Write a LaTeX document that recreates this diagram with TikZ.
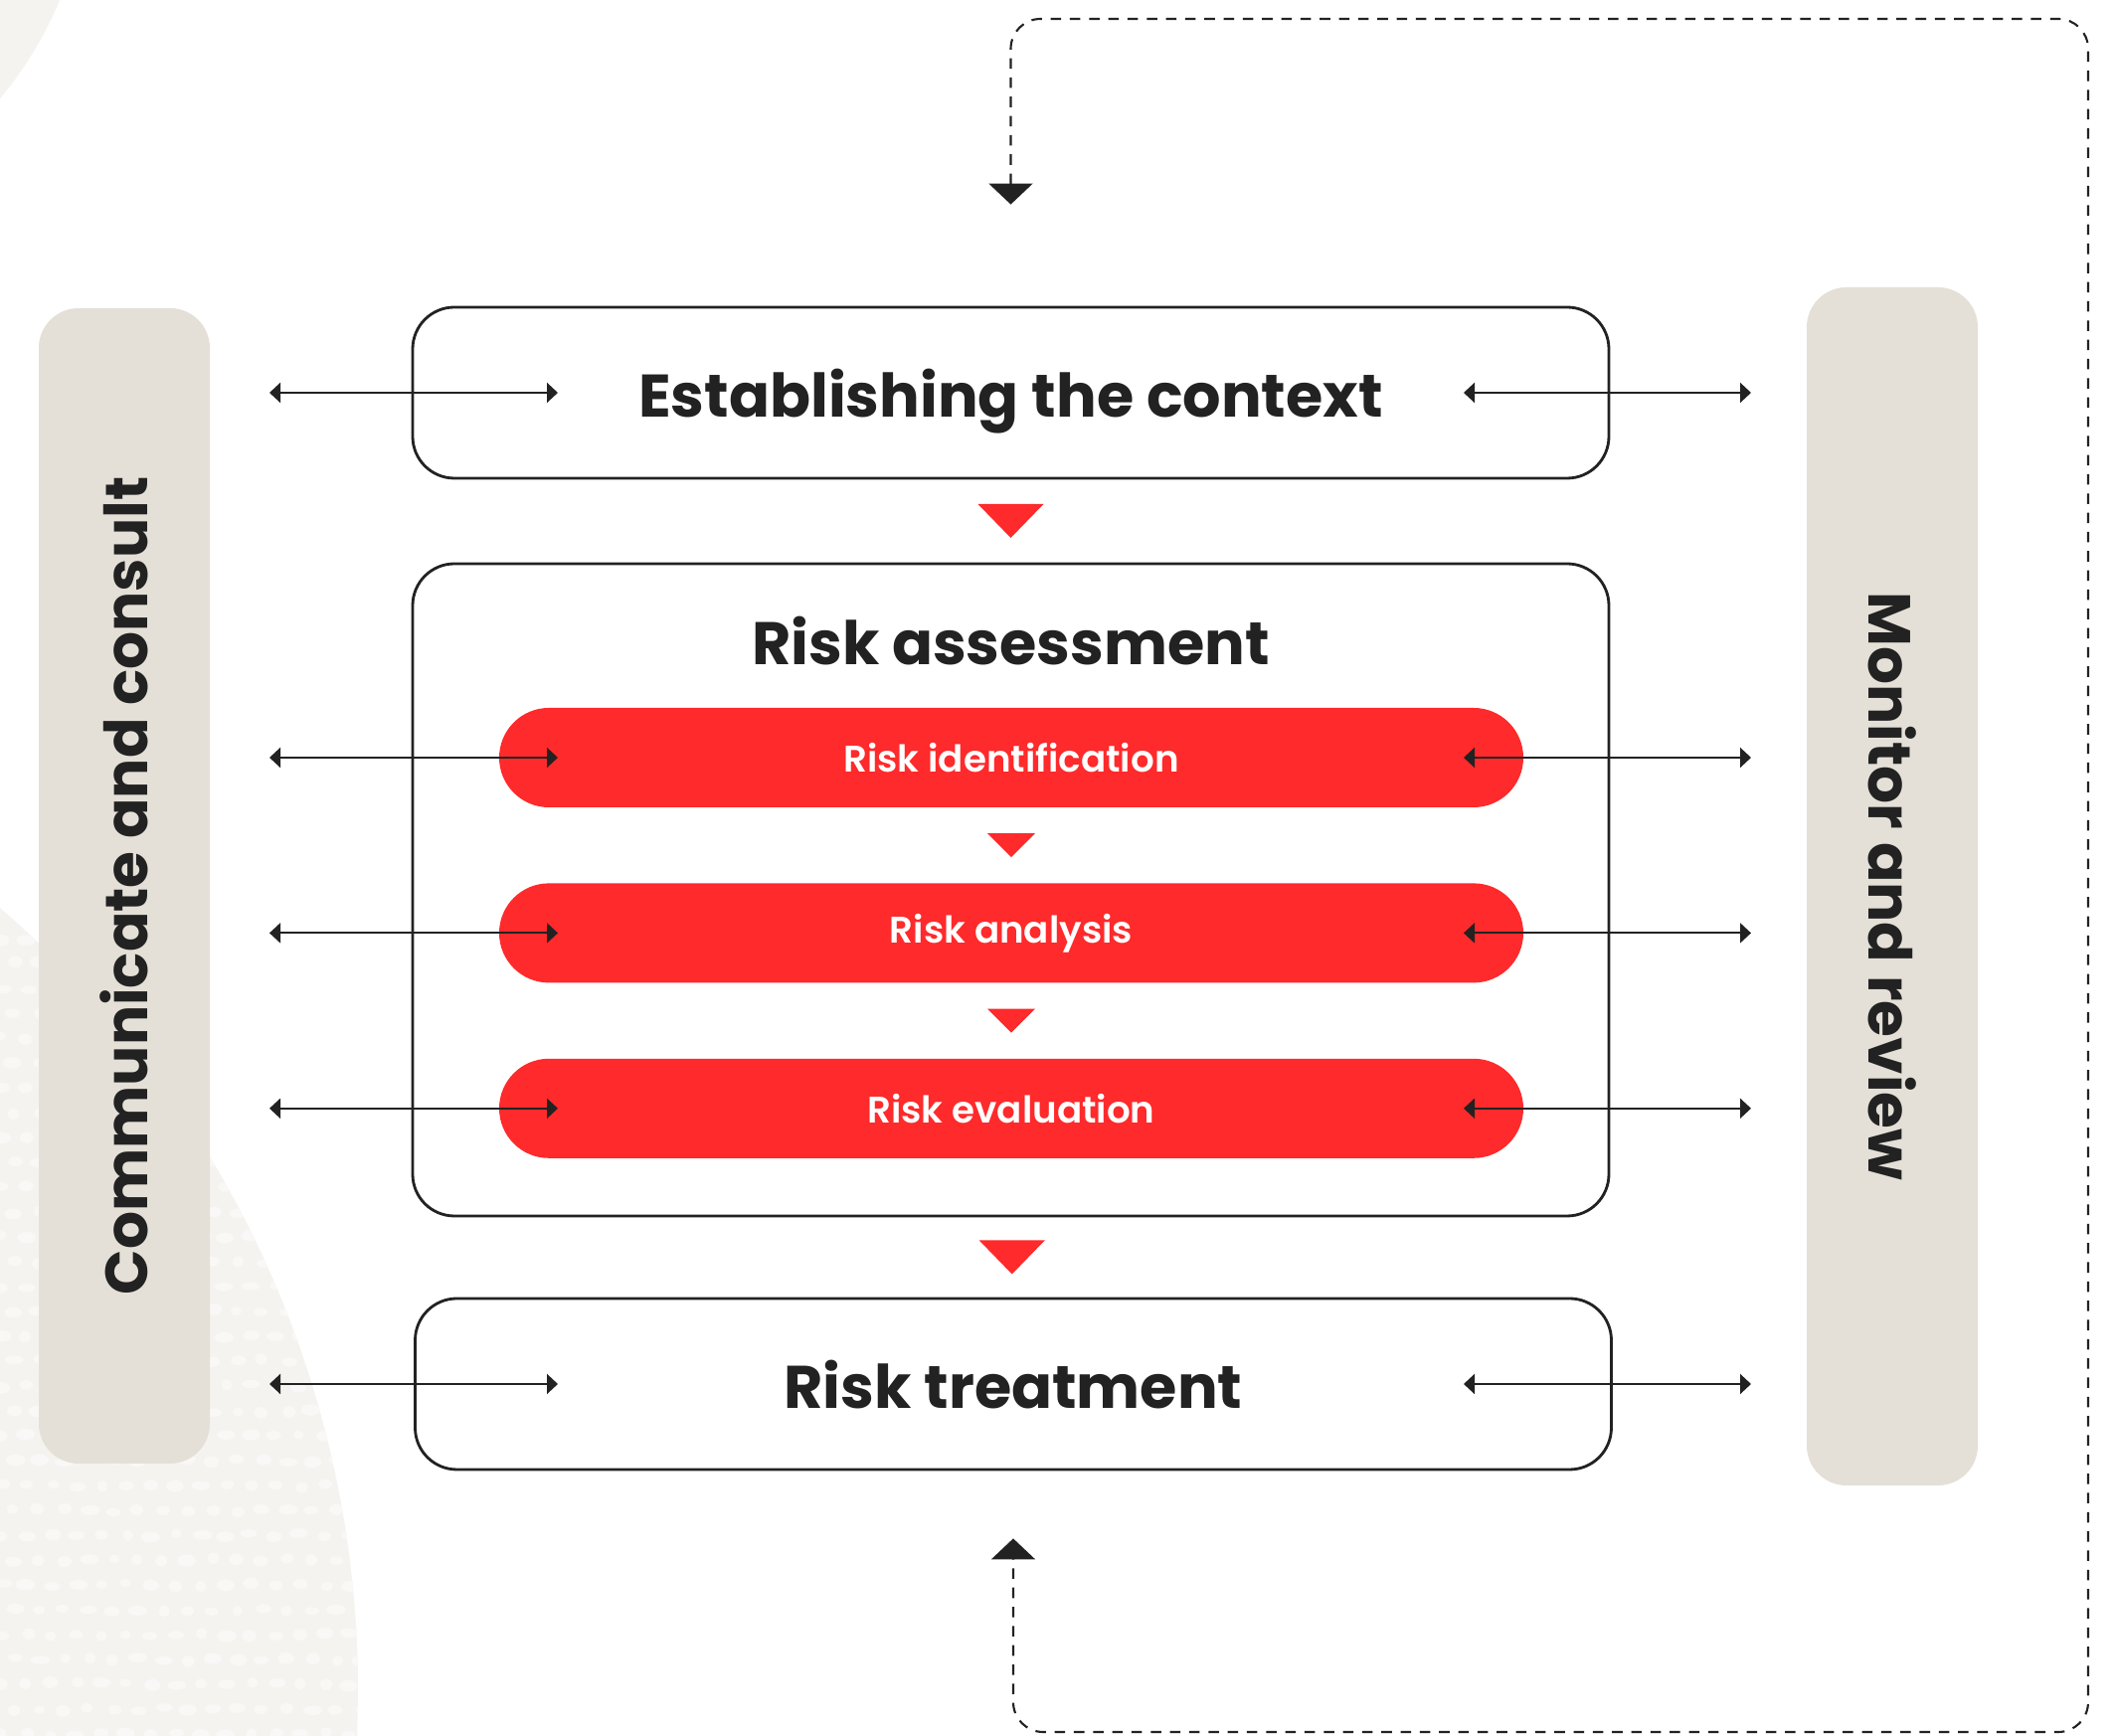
\documentclass[tikz,border=0pt]{standalone}
\usepackage{fontspec}
\setmainfont{Poppins}
\newfontfamily\semibold{Poppins SemiBold}
\usetikzlibrary{arrows.meta,positioning,calc}

\definecolor{riskred}{HTML}{FE2A2B}
\definecolor{sand}{HTML}{E4E0D7}
\definecolor{ink}{HTML}{222222}
\definecolor{blob}{HTML}{F4F3EF}
\definecolor{blobdot}{HTML}{F9F8F6}

% red arrowhead between two stages: centre, width, height
\newcommand{\flowtri}[3]{\fill[riskred] (#1) ++(-#2/2,#3/2) -- ++(#2,0) -- ++(-#2/2,-#3) -- cycle;}

\tikzset{
  stage/.style={draw=ink, line width=0.8pt, rounded corners=0.42cm,
    minimum width=12.03cm, minimum height=1.72cm, inner sep=0pt, text depth=0pt},
  substage/.style={fill=riskred, rounded corners=0.5cm, minimum width=10.3cm,
    minimum height=1.0cm, text=white, font=\semibold\fontsize{10.6}{13}\selectfont},
  sidebar/.style={fill=sand, rounded corners=0.4cm, minimum height=1.72cm,
    text=ink, font=\bfseries\fontsize{17}{20}\selectfont},
  title/.style={text=ink, font=\bfseries\fontsize{17.2}{20}\selectfont},
  twoway/.style={draw=ink, line width=0.6pt,
    {Triangle[length=0.11cm,width=0.2cm]}-{Triangle[length=0.11cm,width=0.2cm]}},
  feedback/.style={draw=ink, line width=0.6pt, dash pattern=on 3pt off 2.5pt,
    rounded corners=0.3cm,
    {Triangle[length=0.21cm,width=0.44cm]}-{Triangle[length=0.21cm,width=0.44cm]}}
}

\begin{document}
\begin{tikzpicture}
  \useasboundingbox (0,0) rectangle (21.26,17.46);
  \fill[white] (0,0) rectangle (21.26,17.46);

  % soft background shapes
  \begin{scope}
    \clip (0,0) rectangle (21.26,17.46);
    \fill[blob] (-3.0,18.96) circle (3.9);
    \fill[blob] (-6.8,0.46) circle (10.4);
    \clip (-6.8,0.46) circle (10.4);
    \pgfmathsetseed{7}
    \foreach \r in {0,...,34}
      \foreach \c in {0,...,15}
        \fill[blobdot] ({\c*0.25+mod(\r,2)*0.12+0.04*rnd},{\r*0.25+0.04*rnd})
          ellipse ({0.05+0.05*rnd} and {0.04+0.02*rnd});
  \end{scope}

  % side bars
  \node[sidebar, rotate=90, minimum width=11.62cm] (comm) at (1.25,8.55) {Communicate and consult};
  \node[sidebar, rotate=-90, minimum width=12.05cm] (mon) at (19.03,8.545) {Monitor and review};

  % main stages
  \node[stage, title] (ctx) at (10.165,13.51) {Establishing the context};
  \node[stage, minimum height=6.56cm] (ra) at (10.165,8.51) {};
  \node[title] (ratitle) at (10.165,11.01) {Risk assessment};
  \node[stage, title] (trt) at (10.19,3.54) {Risk treatment};

  \node[substage] (rid) at (10.17,9.84) {Risk identification};
  \node[substage, below=0.75cm of rid] (ran) {Risk analysis};
  \node[substage, below=0.75cm of ran] (rev) {Risk evaluation};

  \flowtri{$(ctx.south)!0.5!(ra.north)$}{0.66}{0.34}
  \flowtri{$(rid.south)!0.5!(ran.north)$}{0.48}{0.24}
  \flowtri{$(ran.south)!0.5!(rev.north)$}{0.48}{0.24}
  \flowtri{$(ra.south)!0.5!(trt.north)$}{0.66}{0.34}

  % links to the side bars
  \coordinate (lx1) at (2.71,0);
  \coordinate (lx2) at (5.61,0);
  \coordinate (rx1) at (14.72,0);
  \coordinate (rx2) at (17.61,0);
  \foreach \n in {ctx,rid,ran,rev,trt} {
    \draw[twoway] (\n -| lx1) -- (\n -| lx2);
    \draw[twoway] (\n -| rx1) -- (\n -| rx2);
  }

  % feedback loop
  \coordinate (fbin) at ([yshift=1.02cm]ctx.north);
  \coordinate (fbout) at ([yshift=-0.68cm]trt.south);
  \draw[feedback] (fbin) |- (21.0,17.27) |- (10.19,0.04) -- (fbout);
\end{tikzpicture}
\end{document}
